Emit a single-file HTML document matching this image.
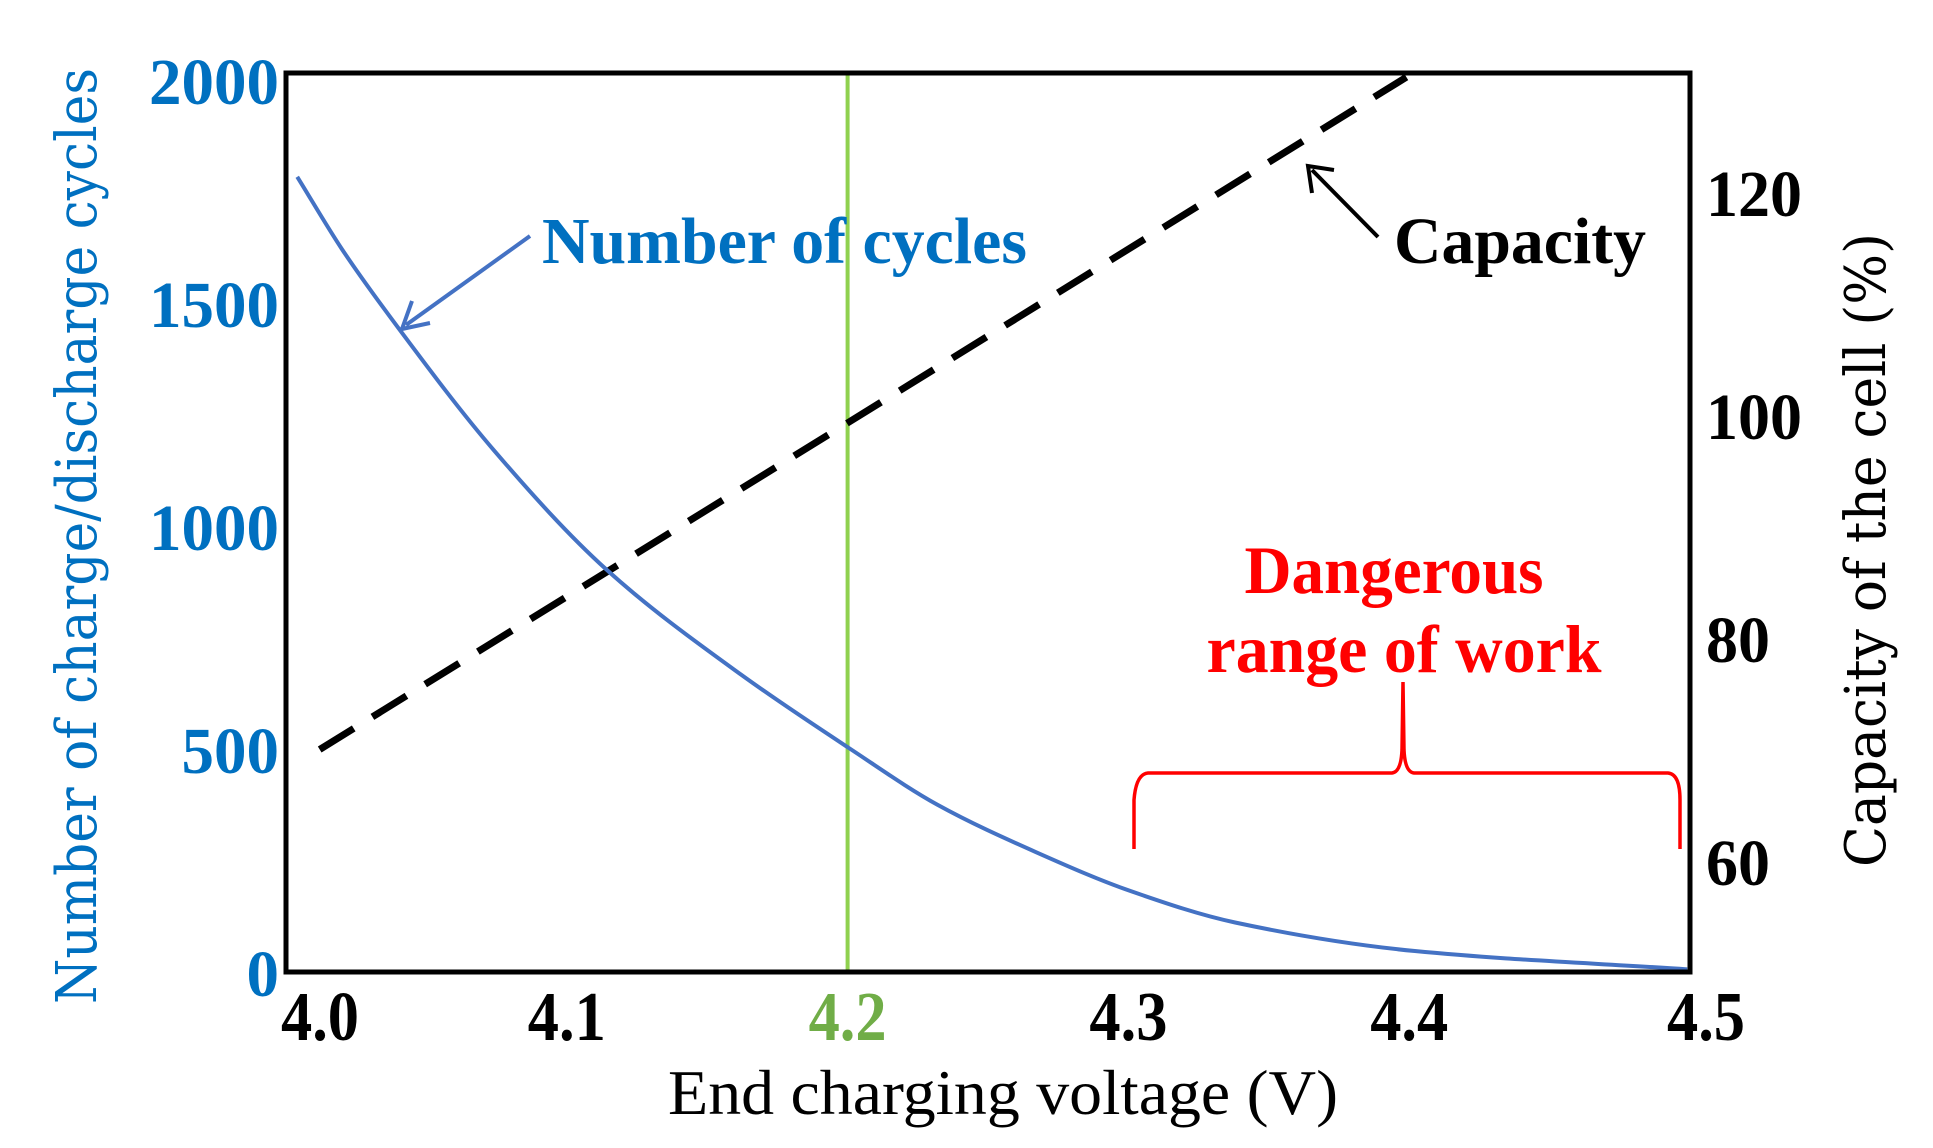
<!DOCTYPE html>
<html><head><meta charset="utf-8"><style>
html,body{margin:0;padding:0;background:#fff;}
svg{display:block;}
text{font-family:"Liberation Serif","DejaVu Serif",serif;}
</style></head><body>
<svg id="chart" width="1933" height="1148" viewBox="0 0 1933 1148" xmlns="http://www.w3.org/2000/svg">
<g id="plot"></g>
</svg>
<script>
const xTicks=[4.0,4.1,4.2,4.3,4.4,4.5];
const xTickLabels=["4.0","4.1","4.2","4.3","4.4","4.5"];
const leftTicks=[0,500,1000,1500,2000];
const leftTickLabels=["0","500","1000","1500","2000"];
const rightTicks=[60,80,100,120];
const rightTickLabels=["60","80","100","120"];
const cycleVoltage=[4.004,4.020,4.040,4.074,4.114,4.162,4.201,4.232,4.267,4.301,4.338,4.402,4.499];
const cycleCount=[1783,1620,1444,1170,903,667,500,375,269,181,111,47,6];
const capVoltage=[4.012,4.399];
const capValue=[70,130.3];
const markerVoltage=[4.2];

const L=286,R=1690,T=73,B=972;
const NS="http://www.w3.org/2000/svg";
const svg=document.getElementById('chart');
function X(v){return L+(v-4.0)/0.5*(R-L);}
function YL(n){return 972-n/2000*892;}
function YR(p){return 861-(p-60)*11.15;}
function mk(tag,attrs,parent){const e=document.createElementNS(NS,tag);for(const k in attrs)e.setAttribute(k,attrs[k]);(parent||svg).appendChild(e);return e;}

markerVoltage.forEach(v=>{
  const l=mk('line',{x1:X(v),x2:X(v),y1:T,y2:B,stroke:'#8fd14f','stroke-width':4});
  
  
});
const cp=mk('polyline',{points:capVoltage.map((v,i)=>X(v)+','+YR(capValue[i])).join(' '),fill:'none',stroke:'#000','stroke-width':7,'stroke-dasharray':'40 22'});


const px=cycleVoltage.map(X), py=cycleCount.map(YL);
const n=px.length, dx=[], sl=[], m=[];
for(let i=0;i<n-1;i++){dx.push(px[i+1]-px[i]);sl.push((py[i+1]-py[i])/dx[i]);}
m[0]=sl[0];m[n-1]=sl[n-2];
for(let i=1;i<n-1;i++){const h0=dx[i-1],h1=dx[i],s0=sl[i-1],s1=sl[i];
  m[i]=(s0*s1<=0)?0:3*(h0+h1)/((h0+2*h1)/s0+(2*h0+h1)/s1);}
let d='M'+px[0]+','+py[0];
for(let i=0;i<n-1;i++){const h=dx[i]/3;d+=' C'+(px[i]+h)+','+(py[i]+m[i]*h)+' '+(px[i+1]-h)+','+(py[i+1]-m[i+1]*h)+' '+px[i+1]+','+py[i+1];}
const cc=mk('path',{d:d,fill:'none',stroke:'#4472c4','stroke-width':4});


const fr=mk('rect',{x:L,y:T,width:R-L,height:B-T,fill:'none',stroke:'#000','stroke-width':5});


xTicks.forEach((v,i)=>{
  const t=mk('text',{x:X(v)+(i==0?34:i==5?16:0),y:1040,'text-anchor':'middle','font-size':70,'font-weight':'bold',fill:(v===4.2?'#70ad47':'#000'),textLength:78,lengthAdjust:'spacingAndGlyphs'});
  t.textContent=xTickLabels[i];
  
  
});
leftTicks.forEach((v,i)=>{
  const t=mk('text',{x:279,y:YL(v)+24,'text-anchor':'end','font-size':66,'font-weight':'bold',fill:'#0070c0',textLength:leftTickLabels[i].length*32.5,lengthAdjust:'spacingAndGlyphs'});
  t.textContent=leftTickLabels[i];
  
  
});
rightTicks.forEach((v,i)=>{
  const t=mk('text',{x:1706,y:YR(v)+24,'text-anchor':'start','font-size':66,'font-weight':'bold',fill:'#000',textLength:rightTickLabels[i].length*32,lengthAdjust:'spacingAndGlyphs'});
  t.textContent=rightTickLabels[i];
  
  
});
</script>
<svg style="position:absolute;left:0;top:0" width="1933" height="1148" xmlns="http://www.w3.org/2000/svg">
<text x="1003" y="1114" text-anchor="middle" font-size="64" textLength="670" lengthAdjust="spacingAndGlyphs" style="font-family:'Liberation Serif',serif">End charging voltage (V)</text>
<text transform="translate(96,536) rotate(-90)" text-anchor="middle" font-size="56" fill="#0070c0" textLength="936" lengthAdjust="spacingAndGlyphs" style="font-family:'DejaVu Serif',serif">Number of charge/discharge cycles</text>
<text transform="translate(1885,550) rotate(-90)" text-anchor="middle" font-size="56" fill="#000" textLength="634" lengthAdjust="spacingAndGlyphs" style="font-family:'DejaVu Serif',serif">Capacity of the cell (%)</text>
<text x="542" y="263" font-size="66" font-weight="bold" fill="#0070c0" textLength="485" lengthAdjust="spacingAndGlyphs" style="font-family:'Liberation Serif',serif">Number of cycles</text>
<line x1="530" y1="236" x2="406" y2="325" stroke="#4472c4" stroke-width="4"/>
<polyline points="412,301 402,329 430,323" fill="none" stroke="#4472c4" stroke-width="4"/>
<text x="1394" y="263" font-size="66" font-weight="bold" fill="#000" textLength="252" lengthAdjust="spacingAndGlyphs" style="font-family:'Liberation Serif',serif">Capacity</text>
<line x1="1378" y1="237" x2="1312" y2="170" stroke="#000" stroke-width="4"/>
<polyline points="1312,193 1308,166 1334,170" fill="none" stroke="#000" stroke-width="4"/>
<text x="1394" y="593" text-anchor="middle" font-size="68" font-weight="bold" fill="#ff0000" textLength="299" lengthAdjust="spacingAndGlyphs" style="font-family:'Liberation Serif',serif">Dangerous</text>
<text x="1404" y="672" text-anchor="middle" font-size="68" font-weight="bold" fill="#ff0000" textLength="395" lengthAdjust="spacingAndGlyphs" style="font-family:'Liberation Serif',serif">range of work</text>
<path d="M1134,849 L1134,800 Q1136,774 1148,773 L1392,773 Q1401,772 1402,750 L1403,682 L1404,750 Q1405,772 1414,773 L1668,773 Q1680,774 1680,800 L1680,849" fill="none" stroke="#ff0000" stroke-width="3.5"/>
</svg>
</body></html>
